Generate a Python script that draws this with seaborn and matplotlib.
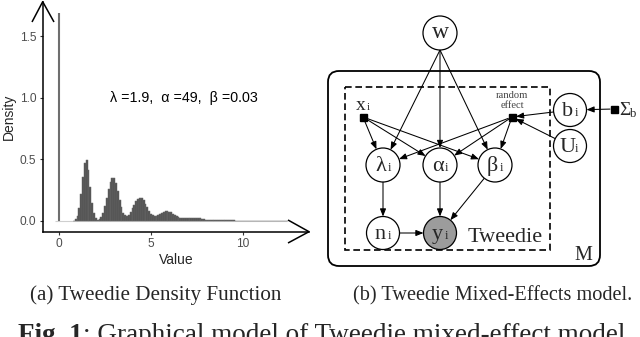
import numpy as np
import pandas as pd
import matplotlib
matplotlib.use("Agg")
import matplotlib.pyplot as plt
import seaborn as sns
from matplotlib.patches import Circle, Rectangle, FancyBboxPatch, FancyArrowPatch

# ---------------- data ----------------
bin_width = 0.1
first_bin_center = 0.8
density = [
    0.003, 0.013, 0.041, 0.106, 0.219, 0.360, 0.473, 0.495, 0.413, 0.274,   # 0.8 - 1.7
    0.146, 0.062, 0.023, 0.012, 0.017, 0.035, 0.068, 0.119, 0.184, 0.256,   # 1.8 - 2.7
    0.318, 0.352, 0.348, 0.307, 0.243, 0.172, 0.111, 0.068, 0.046, 0.041,   # 2.8 - 3.7
    0.052, 0.073, 0.102, 0.132, 0.161, 0.181, 0.190, 0.184, 0.167, 0.140,   # 3.8 - 4.7
    0.110, 0.082, 0.060, 0.046, 0.039, 0.040, 0.046, 0.054, 0.063, 0.071,   # 4.8 - 5.7
    0.077, 0.078, 0.075, 0.069, 0.059, 0.049, 0.040, 0.031, 0.026, 0.022,   # 5.8 - 6.7
    0.021, 0.021, 0.022, 0.024, 0.026, 0.027, 0.027, 0.026, 0.023, 0.021,   # 6.8 - 7.7
    0.018, 0.016, 0.012, 0.010, 0.009, 0.008, 0.008, 0.008, 0.008, 0.008,   # 7.8 - 8.7
    0.008, 0.008, 0.008, 0.007, 0.006, 0.006, 0.005, 0.004, 0.003, 0.003,   # 8.8 - 9.7
    0.003, 0.002, 0.002, 0.002, 0.002, 0.002, 0.002, 0.002, 0.002, 0.002,   # 9.8 - 10.7
    0.001, 0.001, 0.001, 0.001, 0.001, 0.001, 0.001, 0.001, 0.001, 0.001,   # 10.8 - 11.7
    0.001, 0.001, 0.001, 0.001, 0.001, 0.001, 0.001,                        # 11.8 - 12.4
]
zero_mass_x = 0.0
zero_mass_height = 1.69
param_text = "λ =1.9,  α =49,  β =0.03"
x_ticks = [0, 5, 10]
x_tick_labels = ["0", "5", "10"]
y_ticks = [0.0, 0.5, 1.0, 1.5]
y_tick_labels = ["0.0", "0.5", "1.0", "1.5"]
x_label = "Value"
y_label = "Density"

caption_a = "(a) Tweedie Density Function"
caption_b = "(b) Tweedie Mixed-Effects model."
fig_caption_bold = "Fig. 1"
fig_caption_rest = ": Graphical model of Tweedie mixed-effect model."

# graphical model: node name -> (main glyph, subscript)
node_labels = {
    "w": ("w", ""), "lam": ("λ", "i"), "alp": ("α", "i"), "bet": ("β", "i"),
    "n": ("n", "i"), "y": ("y", "i"), "b": ("b", "i"), "U": ("U", "i"),
}
edges_list = [
    ("w", "lam"), ("w", "alp"), ("w", "bet"),
    ("x", "lam"), ("x", "alp"), ("x", "bet"),
    ("re", "lam"), ("re", "alp"), ("re", "bet"),
    ("b", "re"), ("U", "re"), ("Sig", "b"),
    ("lam", "n"), ("alp", "y"), ("bet", "y"), ("n", "y"),
]

# ---------------- figure ----------------
sns.set_style("ticks")
plt.rcParams["font.family"] = ["Liberation Sans", "DejaVu Sans"]
W, H = 640, 337
fig = plt.figure(figsize=(W / 100, H / 100), dpi=100)

ax_left, ax_right, ax_top, ax_bot = 42.7, 309.0, 1.7, 231.7
ax = fig.add_axes([ax_left / W, 1 - ax_bot / H, (ax_right - ax_left) / W, (ax_bot - ax_top) / H])

centers = np.round(first_bin_center + bin_width * np.arange(len(density)), 3)
df = pd.DataFrame({"x": centers, "w": density})
sns.histplot(x=df["x"].to_numpy(), weights=df["w"].to_numpy(), binwidth=bin_width,
             binrange=(first_bin_center - bin_width / 2, centers[-1] + bin_width / 2),
             stat="count", color="#505050", edgecolor="#6a6a6a", linewidth=0.35, alpha=1, ax=ax)
ax.hlines(0, -0.2, 12.4, color="#cfcfcf", lw=0.8, zorder=0.5)
ax.vlines(zero_mass_x, 0, zero_mass_height, color="#6e6e6e", lw=1.5)

ax.set_xlim(-0.89, 13.6)
ax.set_ylim(-0.087, 1.78)
ax.set_xticks(x_ticks, x_tick_labels)
ax.set_yticks(y_ticks, y_tick_labels)
sns.despine(ax=ax)
for s in ("left", "bottom"):
    ax.spines[s].set_linewidth(1.1)
    ax.spines[s].set_color("black")
ax.tick_params(length=2.5, width=0.8, color="#333333", labelcolor="#4d4d4d", labelsize=8.6, pad=2)
ax.set_xlabel(x_label, fontsize=10, labelpad=2)
ax.set_ylabel(y_label, fontsize=10, labelpad=3)
ax.text(6.77, 1.0, param_text, ha="center", va="center", fontsize=10.3, color="black")

# ---------------- overlay (pixel coordinates) ----------------
ov = fig.add_axes([0, 0, 1, 1])
ov.set_xlim(0, W)
ov.set_ylim(H, 0)
ov.axis("off")

# axis arrow heads
ov.plot([32, ax_left, 54], [22, ax_top, 22], color="black", lw=1.1, solid_capstyle="butt")
ov.plot([288, ax_right, 288], [220, ax_bot, 243], color="black", lw=1.1, solid_capstyle="butt")

# node geometry
circles = {
    "w": (440, 33, 17),
    "lam": (383, 165, 17), "alp": (440, 165, 17), "bet": (495, 165, 17),
    "n": (383, 233, 16.5), "y": (440, 233, 16.5),
    "b": (570, 110, 16.5), "U": (570, 146, 16.5),
}
squares = {"x": (363, 117), "re": (512, 117), "Sig": (614, 109)}
sq = 7

# plates
ov.add_patch(FancyBboxPatch((328, 71), 272, 195, boxstyle="round,pad=0,rounding_size=11",
                            fill=False, lw=1.3, ec="black"))
ov.add_patch(Rectangle((345, 87), 205, 163, fill=False, lw=1.2, ec="black",
                       linestyle=(0, (4, 2.2))))

serif = ["Liberation Serif", "DejaVu Serif"]
for k, (cx, cy, r) in circles.items():
    ov.add_patch(Circle((cx, cy), r, fc="#9c9c9c" if k == "y" else "white", ec="black", lw=0.9, zorder=3))
    main, sub = node_labels[k]
    if sub:
        ov.text(cx - 2.5, cy + 6, main, ha="center", va="baseline", fontsize=16, family=serif, zorder=4)
        ov.text(cx + 6, cy + 6, sub, ha="center", va="baseline", fontsize=9, family=serif, zorder=4)
    else:
        ov.text(cx, cy + 5, main, ha="center", va="baseline", fontsize=17, family=serif, zorder=4)

for k, (cx, cy) in squares.items():
    ov.add_patch(Rectangle((cx - sq / 2, cy - sq / 2), sq, sq, fc="black", ec="black", zorder=3))

ov.text(361, 110, "x", ha="center", va="baseline", fontsize=14, family=serif)
ov.text(368.5, 110, "i", ha="center", va="baseline", fontsize=8, family=serif)
ov.text(512, 98, "random", ha="center", va="baseline", fontsize=7.6, family=serif, color="#444444")
ov.text(512, 107.5, "effect", ha="center", va="baseline", fontsize=7.6, family=serif, color="#444444")
ov.text(619, 115, "Σ", ha="left", va="baseline", fontsize=14, family=serif)
ov.text(629.5, 117, "b", ha="left", va="baseline", fontsize=9, family=serif)
ov.text(505, 242, "Tweedie", ha="center", va="baseline", fontsize=16, family=serif)
ov.text(583, 260, "M", ha="center", va="baseline", fontsize=14.5, family=serif)


def endpoint(name, other):
    if name in circles:
        cx, cy, r = circles[name]
    else:
        cx, cy = squares[name]
        r = sq / 2 + 0.5
    ox, oy = other
    d = np.hypot(ox - cx, oy - cy)
    return cx + (ox - cx) / d * r, cy + (oy - cy) / d * r


def center(name):
    if name in circles:
        return circles[name][:2]
    return squares[name]


for a, b in edges_list:
    if a == "w":
        start = (440, 50)
    else:
        start = endpoint(a, center(b))
    end = endpoint(b, center(a) if a != "w" else start)
    ov.add_patch(FancyArrowPatch(start, end, arrowstyle="-|>,head_length=4.5,head_width=1.8",
                                 mutation_scale=1, lw=0.75, color="black", shrinkA=0, shrinkB=0, zorder=2))

# captions
ov.text(30.5, 300, caption_a, ha="left", va="baseline", fontsize=15.2, family=serif)
ov.text(632, 300, caption_b, ha="right", va="baseline", fontsize=14.6, family=serif)
t1 = ov.text(18, 342, fig_caption_bold, ha="left", va="baseline", fontsize=19.5,
             family=serif, fontweight="bold")
fig.canvas.draw()
bb = t1.get_window_extent()
inv = ov.transData.inverted()
x_next = inv.transform((bb.x1, bb.y0))[0]
ov.text(x_next, 342, fig_caption_rest, ha="left", va="baseline", fontsize=19.5, family=serif)

fig.savefig("out.png", dpi=100)
